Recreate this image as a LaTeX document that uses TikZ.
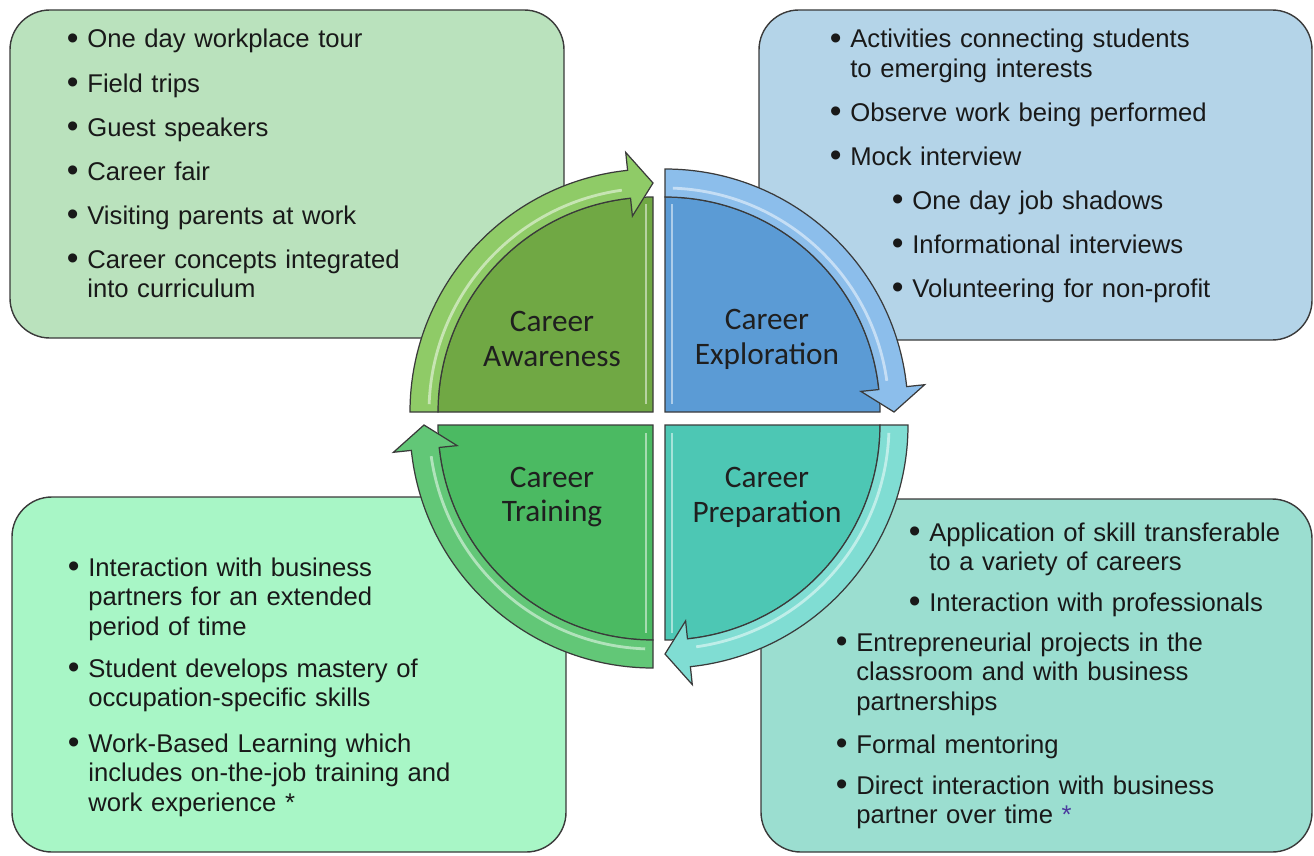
\documentclass[tikz,border=0pt]{standalone}
\usepackage{fontspec}
\setmainfont{Liberation Sans}
\newfontfamily\stagefont{Carlito}
\usetikzlibrary{calc}

\definecolor{awarebox}{HTML}{BAE2BD}
\definecolor{explorebox}{HTML}{B4D4E8}
\definecolor{trainbox}{HTML}{A8F6C6}
\definecolor{prepbox}{HTML}{9BDED0}
\definecolor{awarefill}{HTML}{70A844}
\definecolor{awareband}{HTML}{8FCB67}
\definecolor{explorefill}{HTML}{5B9BD5}
\definecolor{exploreband}{HTML}{8CBEEB}
\definecolor{prepfill}{HTML}{4DC7B4}
\definecolor{prepband}{HTML}{80DDD3}
\definecolor{trainfill}{HTML}{4BBA62}
\definecolor{trainband}{HTML}{62C777}
\definecolor{edgegray}{HTML}{3A3A3A}
\definecolor{starpurple}{HTML}{4B3A9E}

\tikzset{
  infobox/.style={draw=edgegray, line width=0.8pt},
  item/.style={anchor=base west, inner sep=0pt, text width=8cm, align=left, font=\fontsize{14.6}{17}\selectfont, text=black!90},
  stagelabel/.style={align=center, inner sep=0pt, font=\stagefont\fontsize{17.8}{19.8}\selectfont, text=black!88},
  glint/.style={white, opacity=.5, line width=1.6pt},
}
\newcommand{\bul}{\llap{\raisebox{-1pt}{\fontsize{19}{17}\selectfont\textbullet}\hspace{5pt}}}

\begin{document}
\begin{tikzpicture}[x=0.02cm, y=-0.02cm]
	\useasboundingbox (0,0) rectangle (1314,855);
	\draw[infobox, fill=awarebox] (564,338) [rounded corners=22.7pt] -- (10,338) -- (10,10) -- (564,10) [sharp corners] -- cycle;% awareness box
	\draw[infobox, fill=explorebox] (759,340) [rounded corners=22.7pt] -- (759,10) -- (1312,10) -- (1312,340) [sharp corners] -- cycle;% exploration box
	\draw[infobox, fill=trainbox] (566,497) [rounded corners=22.7pt] -- (566,852) -- (12,852) -- (12,497) [sharp corners] -- cycle;% training box
	\draw[infobox, fill=prepbox] (761,499) [rounded corners=22.7pt] -- (1312,499) -- (1312,852) -- (761,852) [sharp corners] -- cycle;% preparation box

	% four quarters, each with its curved arrow
	\foreach \cx/\cy/\a/\v/\s/\sec/\band in {653/412/180/270/-1/awarefill/awareband, 665/412/270/270/1/explorefill/exploreband, 665/425/0/90/1/prepfill/prepband, 653/425/90/90/-1/trainfill/trainband}{
		\pgfmathsetmacro{\ah}{\a+84}
		\pgfmathsetmacro{\ae}{\a+90}
		\pgfmathsetmacro{\ga}{\a+2}
		\pgfmathsetmacro{\gb}{\a+82}
		\begin{scope}[shift={(\cx,\cy)}]
			\filldraw[fill=\sec, draw=edgegray, line width=0.7pt] (0,0) -- (\a:215) arc[start angle=\a, end angle=\ae, radius=215] -- cycle;% quarter disk
			\draw[glint] (\s*7, {sin(\v)*8}) -- (\s*7, {sin(\v)*208});% light strip on the straight edge
			\filldraw[fill=\band, draw=edgegray, line width=0.7pt] (\a:215) -- (\a:243) arc[start angle=\a, end angle=\ah, radius=243] -- (\ah:261) -- (\ae:229) -- (\ah:197) -- (\ah:215) arc[start angle=\ah, end angle=\a, radius=215] -- cycle;% arrow band
			\draw[glint] (\ga:224) arc[start angle=\ga, end angle=\gb, radius=224];
		\end{scope}
	}

	\node[stagelabel] (aware) at (552,339) {Career\\Awareness};
	\node[stagelabel] (explore) at (767,339) {Career\\Exploration};
	\node[stagelabel] (train) at (552,497) {Career\\Training};
	\node[stagelabel] (prep) at (767,497) {Career\\Preparation};

	% awareness items
	\node[item] (aw1) at (87,48) {\bul One day workplace tour};
	\node[item] (aw2) at (87,92) {\bul Field trips};
	\node[item] (aw3) at (87,136) {\bul Guest speakers};
	\node[item] (aw4) at (87,180) {\bul Career fair};
	\node[item] (aw5) at (87,224) {\bul Visiting parents at work};
	\node[item] (aw6) at (87,268) {\bul Career concepts integrated\\into curriculum};

	% exploration items
	\node[item] (ex1) at (850,48) {\bul Activities connecting students\\to emerging interests};
	\node[item] (ex2) at (850,121) {\bul Observe work being performed};
	\node[item] (ex3) at (850,165) {\bul Mock interview};
	\node[item] (ex4) at (912,209) {\bul One day job shadows};
	\node[item] (ex5) at (912,253) {\bul Informational interviews};
	\node[item] (ex6) at (912,297) {\bul Volunteering for non-profit};

	% training items
	\node[item] (tr1) at (88,576) {\bul Interaction with business\\partners for an extended\\period of time};
	\node[item] (tr2) at (88,677) {\bul Student develops mastery of\\occupation-specific skills};
	\node[item] (tr3) at (88,752) {\bul Work-Based Learning which\\includes on-the-job training and\\work experience *};

	% preparation items
	\node[item] (pr1) at (929,541) {\bul Application of skill transferable\\to a variety of careers};
	\node[item] (pr2) at (929,611) {\bul Interaction with professionals};
	\node[item] (pr3) at (856,651) {\bul Entrepreneurial projects in the\\classroom and with business\\partnerships};
	\node[item] (pr4) at (856,753) {\bul Formal mentoring};
	\node[item] (pr5) at (856,794) {\bul Direct interaction with business\\partner over time {\color{starpurple}*}};
\end{tikzpicture}
\end{document}
